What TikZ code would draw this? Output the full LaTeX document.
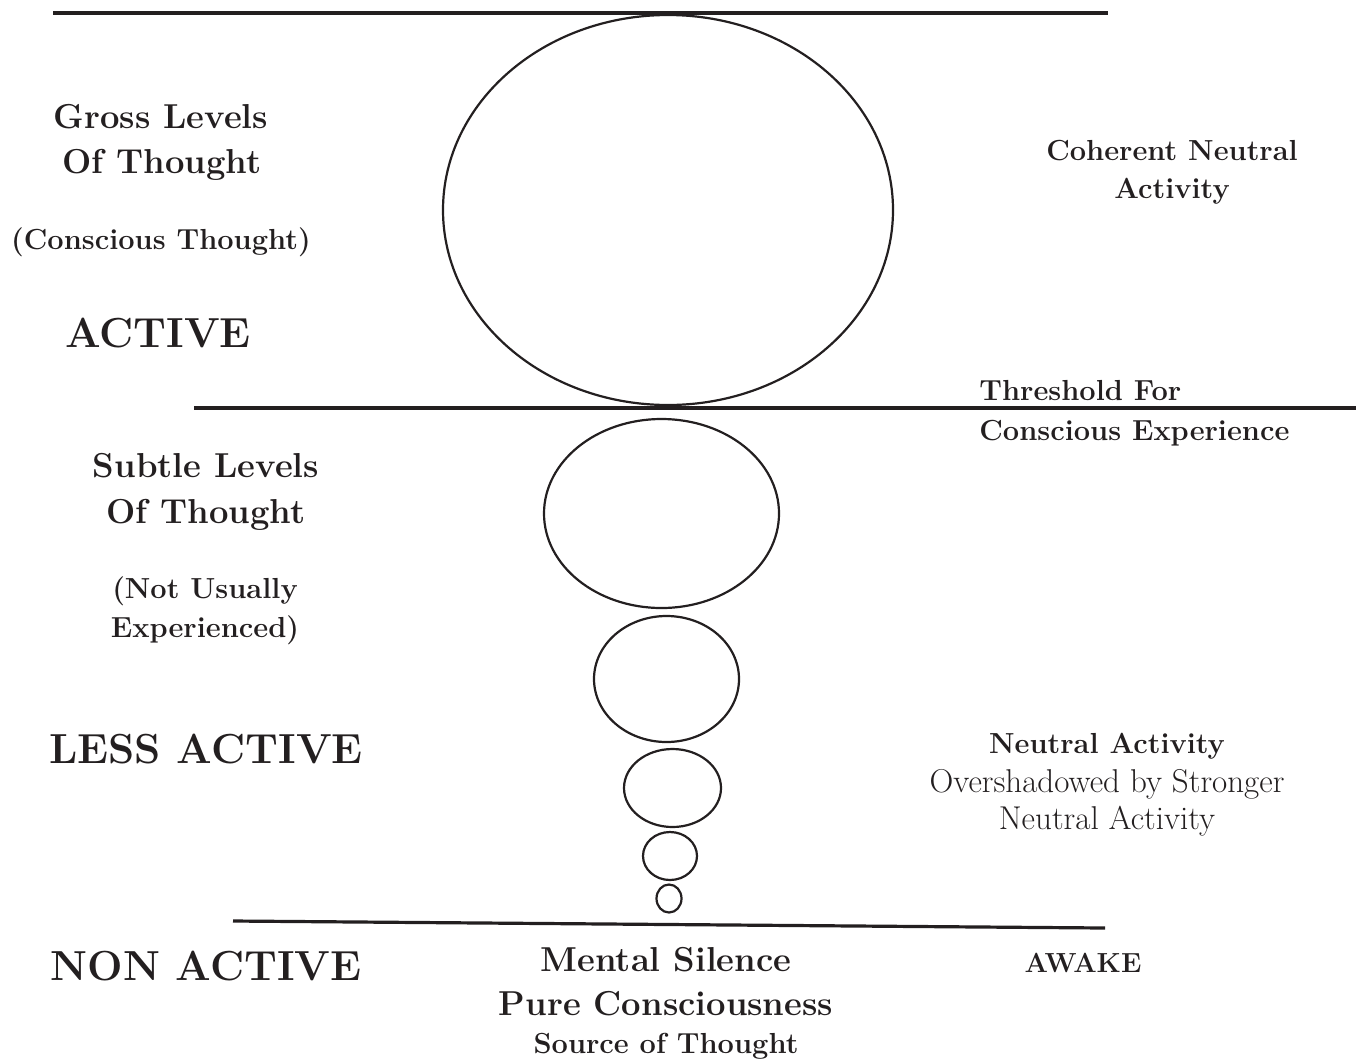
\documentclass[tikz,border=0pt]{standalone}
\usepackage{fontspec}
\usetikzlibrary{shapes.geometric}
\definecolor{ink}{RGB}{35,31,32}

\begin{document}
\begin{tikzpicture}[x=0.5pt,y=-0.5pt,
  every node/.style={text=ink,inner sep=0pt,anchor=base},
  rule/.style={ink,line width=1.6pt},
  bubble/.style={ellipse,draw=ink,line width=1.1pt,inner sep=0pt,anchor=center},
  big/.style={font=\bfseries\fontsize{21}{24}\selectfont},
  large/.style={font=\bfseries\fontsize{17.3}{20}\selectfont},
  medium/.style={font=\bfseries\fontsize{14.5}{17}\selectfont},
  plain/.style={font=\fontsize{16.5}{19}\selectfont}]
  \useasboundingbox (0,0) rectangle (1358,1061);

  % level lines
  \coordinate (topl) at (53,13);   \coordinate (topr) at (1108,13);
  \coordinate (midl) at (194,408); \coordinate (midr) at (1356,408);
  \coordinate (botl) at (233,921); \coordinate (botr) at (1105,928);
  \draw[rule] (topl) -- (topr);
  \draw[rule] (midl) -- (midr);
  \draw[rule] (botl) -- (botr);

  % bubbles, shrinking towards silence
  \foreach \i/\cx/\cy/\rx/\ry in {1/668/210/225/195, 2/661.5/513.5/117.5/94.5,
      3/666.5/679/72.5/63, 4/672.5/788/48.5/39, 5/670/856/27/24, 6/669/898.5/12.5/14}
    \node[bubble,minimum width=\rx*1pt,minimum height=\ry*1pt] (b\i) at (\cx,\cy) {};

  % left column
  \node[large]  (gross1)  at (161,128) {Gross Levels};
  \node[large]  (gross2)  at (162,173) {Of Thought};
  \node[medium] (consc)   at (161,249) {(Conscious Thought)};
  \node[big]    (active)  at (158,347) {ACTIVE};
  \node[large]  (subtle1) at (206,477) {Subtle Levels};
  \node[large]  (subtle2) at (206,523) {Of Thought};
  \node[medium] (notus1)  at (205,598) {(Not Usually};
  \node[medium] (notus2)  at (205,637) {Experienced)};
  \node[big]    (less)    at (206,763) {LESS ACTIVE};
  \node[big]    (non)     at (206,980) {NON ACTIVE};

  % right column
  \node[medium] (coh1) at (1172,160) {Coherent Neutral};
  \node[medium] (coh2) at (1172,198) {Activity};
  \node[medium,anchor=base west] (thr1) at (979,400) {Threshold For};
  \node[medium,anchor=base west] (thr2) at (979,440) {Conscious Experience};
  \node[medium] (neu1) at (1107,753) {Neutral Activity};
  \node[plain]  (neu2) at (1107,792) {Overshadowed by Stronger};
  \node[plain]  (neu3) at (1107,829) {Neutral Activity};
  \node[medium,font=\bfseries\fontsize{13.8}{16}\selectfont] (awake) at (1083,972) {AWAKE};

  % below the bottom line
  \node[large]  (mental) at (666,971)  {Mental Silence};
  \node[large]  (pure)   at (666,1015) {Pure Consciousness};
  \node[medium] (source) at (666,1053) {Source of Thought};
\end{tikzpicture}
\end{document}
